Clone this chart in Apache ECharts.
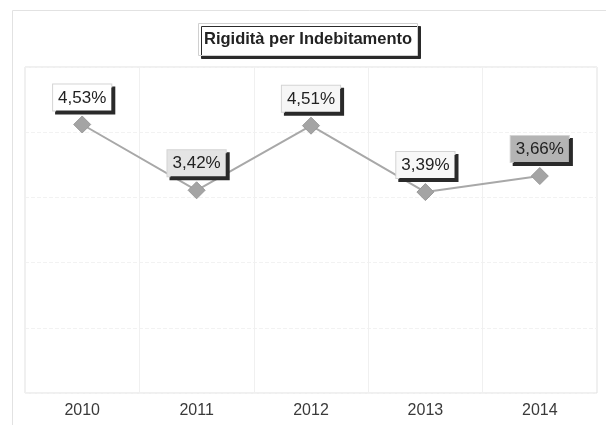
<!DOCTYPE html>
<html>
<head>
<meta charset="utf-8">
<script src="https://cdn.jsdelivr.net/npm/echarts@6/dist/echarts.min.js"></script>
<style>html,body{margin:0;padding:0;background:#fff;}#c{width:606px;height:425px;}</style>
</head>
<body>
<div id="c"></div>
<script>
const titleText = 'Rigidità per Indebitamento';
const categories = ['2010', '2011', '2012', '2013', '2014'];
const values = [4.53, 3.42, 4.51, 3.39, 3.66];
const labelBackgrounds = ['#ffffff', '#e4e4e4', '#f6f6f6', '#f8f8f8', '#b4b4b4'];

const chart = echarts.init(document.getElementById('c'), null, {renderer: 'canvas'});
const fmt = v => v.toFixed(2).replace('.', ',') + '%';

chart.setOption({
  animation: false,
  backgroundColor: '#ffffff',
  title: {
    text: titleText,
    left: 198,
    top: 23,
    padding: [8, 6, 8, 6],
    backgroundColor: '#ffffff',
    borderColor: '#d0d0d0',
    borderWidth: 1,
    shadowColor: '#2a2a2a',
    shadowOffsetX: 3,
    shadowOffsetY: 3,
    shadowBlur: 0,
    textStyle: {fontFamily: 'Liberation Sans', fontSize: 16.5, fontWeight: 'bold', color: '#222'}
  },
  graphic: [{
    type: 'rect', silent: true, z: -1,
    shape: {x: 12.5, y: 10.5, width: 600, height: 420},
    style: {fill: 'none', stroke: '#e2e2e2', lineWidth: 1}
  }],
  grid: {left: 25, right: 9, top: 67, bottom: 32, show: true, borderColor: '#e0e0e0', borderWidth: 1},
  xAxis: {
    type: 'category',
    data: categories,
    boundaryGap: true,
    axisLine: {show: false},
    axisTick: {show: false},
    splitLine: {show: true, lineStyle: {color: '#f0f0f0', width: 1}},
    axisLabel: {fontFamily: 'Liberation Sans', fontSize: 16, color: '#3a3a3a', margin: 10}
  },
  yAxis: {
    type: 'value',
    min: 0,
    max: 5.5,
    interval: 1.1,
    axisLine: {show: false},
    axisTick: {show: false},
    axisLabel: {show: false},
    splitLine: {show: true, lineStyle: {color: '#f2f2f2', width: 1, type: 'dashed'}}
  },
  series: [{
    type: 'line',
    data: values.map((v, i) => ({
      value: v,
      label: {backgroundColor: labelBackgrounds[i]}
    })),
    symbol: 'diamond',
    symbolSize: 17,
    itemStyle: {color: '#a4a4a4', borderColor: '#999', borderWidth: 1},
    lineStyle: {color: '#a8a8a8', width: 2},
    label: {
      show: true,
      position: 'top',
      distance: 5,
      formatter: p => fmt(p.value),
      fontFamily: 'Liberation Sans',
      fontSize: 17,
      color: '#222',
      padding: [5, 5, 4, 5],
      borderColor: '#d4d4d4',
      borderWidth: 1,
      shadowColor: '#2a2a2a',
      shadowOffsetX: 3,
      shadowOffsetY: 3,
      shadowBlur: 0
    }
  }]
});
</script>
</body>
</html>
